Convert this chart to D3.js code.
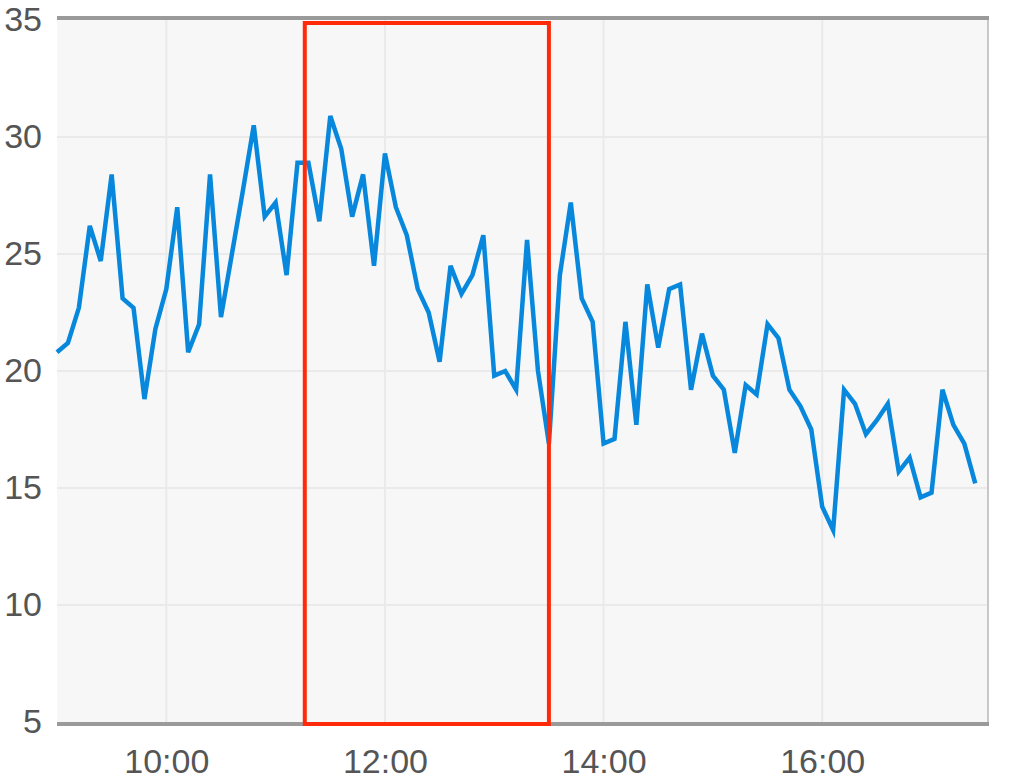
<!DOCTYPE html>
<html>
<head>
<meta charset="utf-8">
<script src="https://cdn.jsdelivr.net/npm/d3@7"></script>
<style>
  html, body { margin: 0; padding: 0; background: #fff; }
  svg { display: block; font-family: "Liberation Sans", Arial, sans-serif; }
</style>
</head>
<body>
<svg id="chart" width="1024" height="783"></svg>
<script>
// readings every 6 minutes, starting 09:00
let startTime = "09:00",
    stepMinutes = 6;

let values = [
    20.8, 21.2, 22.7, 26.2, 24.7, 28.4, 23.1, 22.7, 18.8, 21.8,
    23.5, 27.0, 20.8, 22.0, 28.4, 22.3, 25.0, 27.7, 30.5, 26.6,
    27.2, 24.1, 28.9, 28.9, 26.4, 30.9, 29.5, 26.6, 28.4, 24.5,
    29.3, 27.0, 25.8, 23.5, 22.5, 20.4, 24.5, 23.3, 24.1, 25.8,
    19.8, 20.0, 19.2, 25.6, 20.0, 16.9, 24.1, 27.2, 23.1, 22.1,
    16.9, 17.1, 22.1, 17.7, 23.7, 21.0, 23.5, 23.7, 19.2, 21.6,
    19.8, 19.2, 16.5, 19.4, 19.0, 22.0, 21.4, 19.2, 18.5, 17.5,
    14.2, 13.2, 19.2, 18.6, 17.3, 17.9, 18.6, 15.7, 16.3, 14.6,
    14.8, 19.2, 17.7, 16.9, 15.2
];

let yTicks = [5, 10, 15, 20, 25, 30, 35];
let xTicks = ["10:00", "12:00", "14:00", "16:00"];
let xDomain = ["09:00", "17:31"];
let selection = ["11:16", "13:30"];

let parse = d3.timeParse("%H:%M");
let t0 = parse(startTime);
let data = values.map((v, i) => ({t: d3.timeMinute.offset(t0, i * stepMinutes), v: v}));

let svg = d3.select("#chart");
let pLeft = 57, pRight = 988, pTop = 20, pBottom = 722;

let x = d3.scaleTime().domain(xDomain.map(parse)).range([pLeft, pRight]);
let y = d3.scaleLinear().domain([5, 35]).range([pBottom, pTop]);

// plot background
svg.append("rect")
    .attr("x", pLeft).attr("y", pTop)
    .attr("width", pRight - pLeft).attr("height", pBottom - pTop)
    .attr("fill", "#f7f7f7");

// grid
let grid = svg.append("g").attr("stroke", "#eaeaea").attr("stroke-width", 2);
grid.selectAll("line.h")
    .data(yTicks.filter(d => d > 5 && d < 35))
    .enter().append("line")
    .attr("x1", pLeft).attr("x2", pRight)
    .attr("y1", d => y(d)).attr("y2", d => y(d));
grid.selectAll("line.v")
    .data(xTicks.map(parse))
    .enter().append("line")
    .attr("x1", d => x(d)).attr("x2", d => x(d))
    .attr("y1", pTop).attr("y2", pBottom);

// frame
svg.append("line")
    .attr("x1", pRight).attr("x2", pRight)
    .attr("y1", pTop - 2).attr("y2", pBottom + 2)
    .attr("stroke", "#c8c8c8").attr("stroke-width", 2);
svg.append("line")
    .attr("x1", pLeft).attr("x2", pRight + 1)
    .attr("y1", pTop - 2).attr("y2", pTop - 2)
    .attr("stroke", "#9a9a9a").attr("stroke-width", 4);
svg.append("line")
    .attr("x1", pLeft).attr("x2", pRight + 1)
    .attr("y1", pBottom + 2).attr("y2", pBottom + 2)
    .attr("stroke", "#9a9a9a").attr("stroke-width", 4);

// axes (labels only)
let yAxis = svg.append("g")
    .attr("transform", `translate(${pLeft},0)`)
    .call(d3.axisLeft(y).tickValues(yTicks).tickSize(0).tickPadding(15));
yAxis.select(".domain").remove();
yAxis.selectAll("text")
    .attr("font-size", 34).attr("fill", "#555")
    .attr("font-family", "Liberation Sans, Arial, sans-serif");

let xAxis = svg.append("g")
    .attr("transform", `translate(0,${pBottom})`)
    .call(d3.axisBottom(x).tickValues(xTicks.map(parse))
        .tickFormat(d3.timeFormat("%H:%M")).tickSize(0).tickPadding(27));
xAxis.select(".domain").remove();
xAxis.selectAll("text")
    .attr("font-size", 34).attr("fill", "#555")
    .attr("font-family", "Liberation Sans, Arial, sans-serif");

// series
let line = d3.line()
    .x(d => x(d.t))
    .y(d => y(d.v));

svg.append("path")
    .datum(data)
    .attr("d", line)
    .attr("fill", "none")
    .attr("stroke", "#0788dd")
    .attr("stroke-width", 4.5)
    .attr("stroke-linejoin", "miter")
    .attr("stroke-linecap", "butt");

// selection box
let s0 = x(parse(selection[0])), s1 = x(parse(selection[1]));
svg.append("rect")
    .attr("x", s0).attr("y", pTop + 3)
    .attr("width", s1 - s0).attr("height", pBottom - pTop - 1)
    .attr("fill", "none")
    .attr("stroke", "#ff2a0a")
    .attr("stroke-width", 4);
</script>
</body>
</html>
